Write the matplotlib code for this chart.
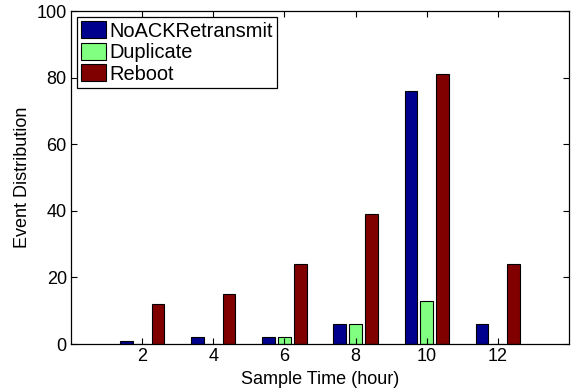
import matplotlib
matplotlib.use("Agg")
import matplotlib.pyplot as plt
import numpy as np

plt.rcParams['font.family'] = ['Liberation Sans', 'DejaVu Sans']

hours = [2, 4, 6, 8, 10, 12]
noack = [1, 2, 2, 6, 76, 6]
duplicate = [0, 0, 2, 6, 13, 0]
reboot = [12, 15, 24, 39, 81, 24]

labels = ['NoACKRetransmit', 'Duplicate', 'Reboot']
colors = ['#00008F', '#80FF80', '#800000']

fig = plt.figure(figsize=(5.84, 3.92), dpi=100)
ax = fig.add_axes([0.1216, 0.1224, 0.8527, 0.8495])

x = np.array(hours)
step = 2 * (2.0 / 3) / 3   # matlab grouped bar spacing
width = 0.8 * step
for i, (vals, lab, c) in enumerate(zip([noack, duplicate, reboot], labels, colors)):
    ax.bar(x + (i - 1) * step, vals, width, color=c, edgecolor='black',
           linewidth=0.8, label=lab)

ax.set_xlim(0, 14)
ax.set_ylim(0, 100)
ax.set_xticks(hours)
ax.set_yticks([0, 20, 40, 60, 80, 100])
ax.tick_params(direction='in', top=True, right=True, labelsize=13, length=4, pad=3)
for s in ax.spines.values():
    s.set_linewidth(0.9)

ax.set_xlabel('Sample Time (hour)', fontsize=13, labelpad=4)
ax.set_ylabel('Event Distribution', fontsize=13, labelpad=4)

leg = ax.legend(loc='upper left', fontsize=14.4, fancybox=False, framealpha=1,
                edgecolor='black', borderpad=0.2, labelspacing=0.1,
                handlelength=1.25, handleheight=0.95, handletextpad=0.15,
                borderaxespad=0.3)
leg.get_frame().set_linewidth(0.9)

fig.savefig('out.png', dpi=100)
